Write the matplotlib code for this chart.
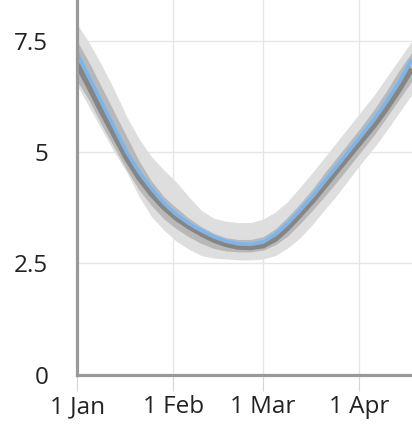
import numpy as np
import matplotlib
matplotlib.use("Agg")
import matplotlib.pyplot as plt

plt.rcParams['font.family'] = ['Open Sans', 'DejaVu Sans']

# Days since 1 Jan (leap year)
days = [0, 4, 8, 12, 16, 20, 24, 28, 32, 36, 40, 44, 48, 52, 56, 60, 64, 68,
        72, 76, 80, 84, 88, 92, 96, 100, 104, 108]

blue = [7.22, 6.66, 6.10, 5.55, 5.00, 4.55, 4.18, 3.85, 3.60, 3.40, 3.24, 3.10,
        3.00, 2.94, 2.93, 2.98, 3.15, 3.40, 3.70, 4.01, 4.36, 4.70, 5.05, 5.40,
        5.75, 6.15, 6.58, 7.08]

dark = [6.98, 6.45, 5.90, 5.38, 4.86, 4.42, 4.06, 3.76, 3.52, 3.33, 3.17, 3.03,
        2.93, 2.87, 2.86, 2.90, 3.05, 3.30, 3.60, 3.91, 4.25, 4.60, 4.94, 5.28,
        5.62, 6.00, 6.42, 6.88]

mid_hi = [7.50, 7.00, 6.45, 5.90, 5.35, 4.80, 4.35, 4.00, 3.75, 3.52, 3.33, 3.18,
          3.08, 3.04, 3.04, 3.10, 3.28, 3.55, 3.85, 4.18, 4.55, 4.90, 5.25, 5.60,
          5.98, 6.40, 6.85, 7.25]
mid_lo = [6.60, 6.15, 5.60, 5.10, 4.60, 4.15, 3.80, 3.50, 3.28, 3.10, 2.95, 2.84,
          2.78, 2.76, 2.76, 2.80, 2.92, 3.12, 3.40, 3.70, 4.02, 4.35, 4.70, 5.05,
          5.40, 5.80, 6.20, 6.60]

light_hi = [7.88, 7.45, 6.95, 6.40, 5.80, 5.30, 4.90, 4.60, 4.33, 4.00, 3.70, 3.52,
            3.45, 3.42, 3.42, 3.50, 3.66, 3.90, 4.22, 4.55, 4.90, 5.25, 5.60, 5.95,
            6.30, 6.70, 7.10, 7.50]
light_lo = [6.50, 6.00, 5.50, 5.00, 4.55, 4.00, 3.55, 3.25, 3.00, 2.82, 2.68, 2.62,
            2.60, 2.58, 2.58, 2.60, 2.68, 2.85, 3.08, 3.38, 3.72, 4.05, 4.42, 4.78,
            5.12, 5.50, 5.90, 6.30]

month_days = [0, 31, 60, 91]
month_labels = ['1 Jan', '1 Feb', '1 Mar', '1 Apr']
y_ticks = [0, 2.5, 5, 7.5]
y_labels = ['0', '2.5', '5', '7.5']

W, H = 412, 432
fig = plt.figure(figsize=(W / 100, H / 100), dpi=100)
ax = fig.add_axes([77.3 / W, (H - 374.5) / H, 1 - 77.3 / W, 374.5 / H])

ax.fill_between(days, light_lo, light_hi, color='#dedede', lw=0, zorder=2)
ax.fill_between(days, mid_lo, mid_hi, color='#b8b8b8', lw=0, zorder=3)
ax.plot(days, dark, color='#858585', lw=4.0, solid_capstyle='butt', zorder=4)
ax.plot(days, blue, color='#7cb5ec', lw=2.6, solid_capstyle='butt', zorder=5)

ax.set_xlim(0, 108.1)
ax.set_ylim(0, 8.43)

ax.set_xticks(month_days)
ax.set_xticklabels(month_labels)
ax.set_yticks(y_ticks)
ax.set_yticklabels(y_labels)

ax.grid(True, color='#e6e6e6', lw=1.0, zorder=1)
ax.set_axisbelow(True)

for s in ['top', 'right']:
    ax.spines[s].set_visible(False)
for s in ['left', 'bottom']:
    ax.spines[s].set_color('#999999')
    ax.spines[s].set_linewidth(2.3)
    ax.spines[s].set_zorder(6)

ax.tick_params(axis='x', colors='#ccd6eb', length=11.5, width=0.8,
               labelcolor='#222222', labelsize=17.5, pad=3.5)
ax.tick_params(axis='y', length=0, labelcolor='#222222', labelsize=17.5, pad=21)

fig.savefig('out.png', dpi=100)
